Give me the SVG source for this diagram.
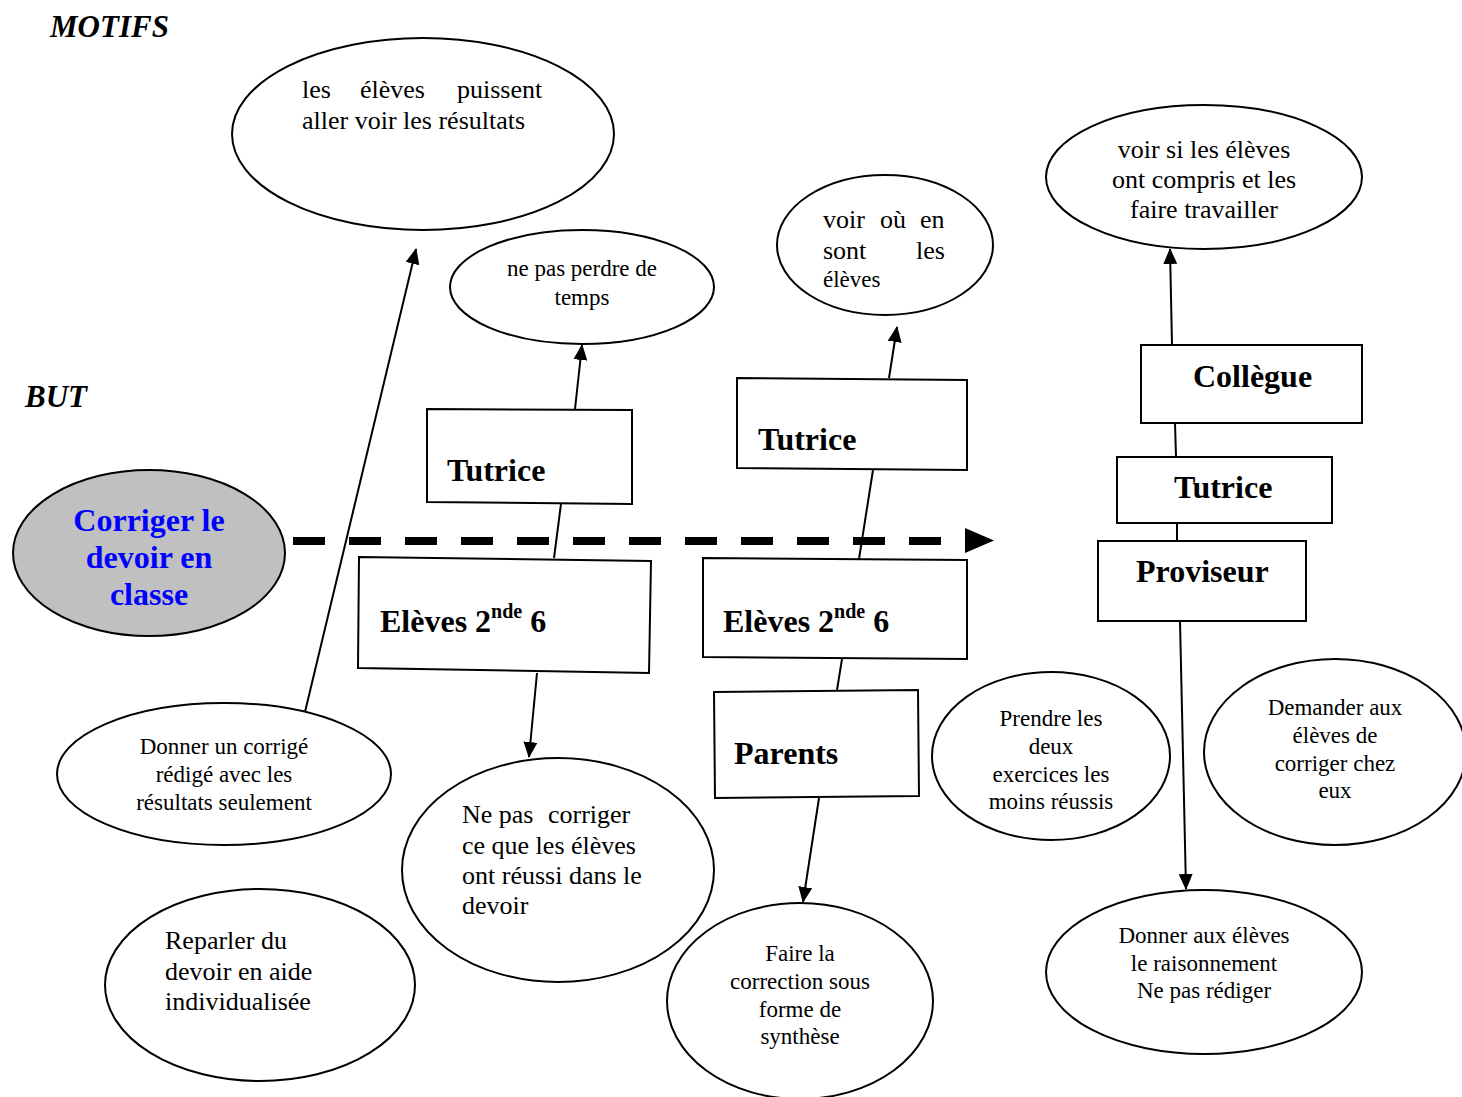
<svg xmlns="http://www.w3.org/2000/svg" width="1462" height="1097" viewBox="0 0 1462 1097">
<style>
.e{fill:#fff;stroke:#000;stroke-width:2}
.b{fill:#fff;stroke:#000;stroke-width:2}
.t{font-family:"Liberation Serif","Times New Roman",serif;fill:#000}
.s21{font-size:23px}
.s24{font-size:26px}
.bl{font-family:"Liberation Serif","Times New Roman",serif;font-weight:bold;font-size:32px;fill:#000}
.hd{font-family:"Liberation Serif","Times New Roman",serif;font-weight:bold;font-style:italic;font-size:31px;fill:#000}
.c{stroke:#000;stroke-width:2;fill:none}
.m{text-anchor:middle}
</style>
<defs>
<marker id="ah" markerUnits="userSpaceOnUse" markerWidth="16" markerHeight="14" refX="15" refY="7" orient="auto">
<path d="M0,0 L16,7 L0,14 Z" fill="#000"/>
</marker>
</defs>
<rect width="1462" height="1097" fill="#fff"/>

<text class="hd" x="50" y="37">MOTIFS</text>
<text class="hd" x="25" y="407">BUT</text>

<g id="connectors">
<line class="c" x1="305" y1="712" x2="416" y2="249" marker-end="url(#ah)"/>
<line class="c" x1="575" y1="409" x2="582" y2="345" marker-end="url(#ah)"/>
<line class="c" x1="561" y1="504" x2="554" y2="558"/>
<line class="c" x1="537" y1="673" x2="529" y2="757" marker-end="url(#ah)"/>
<line class="c" x1="889" y1="378" x2="897" y2="327" marker-end="url(#ah)"/>
<line class="c" x1="873" y1="470" x2="859" y2="559"/>
<line class="c" x1="842" y1="659" x2="837" y2="690"/>
<line class="c" x1="819" y1="798" x2="803" y2="902" marker-end="url(#ah)"/>
<line class="c" x1="1172" y1="345" x2="1170" y2="249" marker-end="url(#ah)"/>
<line class="c" x1="1175" y1="423" x2="1176" y2="457"/>
<line class="c" x1="1177" y1="523" x2="1177" y2="541"/>
<line class="c" x1="1180" y1="621" x2="1186" y2="889" marker-end="url(#ah)"/>
<line x1="293" y1="541" x2="970" y2="541" stroke="#000" stroke-width="8" stroke-dasharray="32 24"/>
<polygon points="965,528 994,540.5 965,553" fill="#000"/>
</g>

<g id="n-resultats">
<ellipse class="e" cx="423" cy="134" rx="191" ry="96"/>
<text class="t s24" y="98"><tspan x="302">les</tspan><tspan x="360">élèves</tspan><tspan x="457">puissent</tspan></text>
<text class="t s24" x="302" y="129">aller voir les résultats</text>
</g>

<g id="n-temps">
<ellipse class="e" cx="582" cy="287" rx="132" ry="57"/>
<text class="t s21 m" x="582" y="276">ne pas perdre de</text>
<text class="t s21 m" x="582" y="305">temps</text>
</g>

<g id="n-ouen">
<ellipse class="e" cx="885" cy="245" rx="108" ry="70"/>
<text class="t s24" y="228"><tspan x="823">voir</tspan><tspan x="880">où</tspan><tspan x="920">en</tspan></text>
<text class="t s24" y="259"><tspan x="823">sont</tspan><tspan x="916">les</tspan></text>
<text class="t s21" x="823" y="287">élèves</text>
</g>

<g id="n-compris">
<ellipse class="e" cx="1204" cy="177" rx="158" ry="72"/>
<text class="t s24 m" x="1204" y="158">voir si les élèves</text>
<text class="t s24 m" x="1204" y="188">ont compris et les</text>
<text class="t s24 m" x="1204" y="218">faire travailler</text>
</g>

<g id="n-but">
<ellipse cx="149" cy="553" rx="136" ry="83" fill="#c0c0c0" stroke="#000" stroke-width="2"/>
<text class="t m" x="149" y="531" style="font-weight:bold;font-size:32px;fill:#0000ff">Corriger le</text>
<text class="t m" x="149" y="568" style="font-weight:bold;font-size:32px;fill:#0000ff">devoir en</text>
<text class="t m" x="149" y="605" style="font-weight:bold;font-size:32px;fill:#0000ff">classe</text>
</g>

<g id="n-tutrice1">
<polygon class="b" points="427,409 632,410 632,504 427,502"/>
<text class="bl" x="447" y="481">Tutrice</text>
</g>

<g id="n-eleves1">
<polygon class="b" points="359,557 651,561 649,673 358,668"/>
<text class="bl" x="380" y="632">Elèves 2<tspan font-size="20" dy="-14">nde</tspan><tspan dy="14"> 6</tspan></text>
</g>

<g id="n-necorriger">
<ellipse class="e" cx="558" cy="870" rx="156" ry="112"/>
<text class="t s24" y="823"><tspan x="462">Ne pas</tspan><tspan x="548">corriger</tspan></text>
<text class="t s24" x="462" y="854">ce que les élèves</text>
<text class="t s24" x="462" y="884">ont réussi dans le</text>
<text class="t s24" x="462" y="914">devoir</text>
</g>

<g id="n-corrige">
<ellipse class="e" cx="224" cy="774" rx="167" ry="71"/>
<text class="t s21 m" x="224" y="754">Donner un corrigé</text>
<text class="t s21 m" x="224" y="782">rédigé avec les</text>
<text class="t s21 m" x="224" y="810">résultats seulement</text>
</g>

<g id="n-reparler">
<ellipse class="e" cx="260" cy="985" rx="155" ry="96"/>
<text class="t s24" x="165" y="949">Reparler du</text>
<text class="t s24" x="165" y="980">devoir en aide</text>
<text class="t s24" x="165" y="1010">individualisée</text>
</g>

<g id="n-tutrice2">
<polygon class="b" points="737,378 967,380 967,470 737,468"/>
<text class="bl" x="758" y="450">Tutrice</text>
</g>

<g id="n-eleves2">
<polygon class="b" points="703,558 967,560 967,659 703,657"/>
<text class="bl" x="723" y="632">Elèves 2<tspan font-size="20" dy="-14">nde</tspan><tspan dy="14"> 6</tspan></text>
</g>

<g id="n-parents">
<polygon class="b" points="714,692 918,690 919,796 715,798"/>
<text class="bl" x="734" y="764">Parents</text>
</g>

<g id="n-synthese">
<ellipse class="e" cx="800" cy="1001" rx="133" ry="98"/>
<text class="t s21 m" x="800" y="961">Faire la</text>
<text class="t s21 m" x="800" y="989">correction sous</text>
<text class="t s21 m" x="800" y="1017">forme de</text>
<text class="t s21 m" x="800" y="1044">synthèse</text>
</g>

<g id="n-prendre">
<ellipse class="e" cx="1051" cy="756" rx="119" ry="84"/>
<text class="t s21 m" x="1051" y="726">Prendre les</text>
<text class="t s21 m" x="1051" y="754">deux</text>
<text class="t s21 m" x="1051" y="782">exercices les</text>
<text class="t s21 m" x="1051" y="809">moins réussis</text>
</g>

<g id="n-demander">
<ellipse class="e" cx="1335" cy="752" rx="131" ry="93"/>
<text class="t s21 m" x="1335" y="715">Demander aux</text>
<text class="t s21 m" x="1335" y="743">élèves de</text>
<text class="t s21 m" x="1335" y="771">corriger chez</text>
<text class="t s21 m" x="1335" y="798">eux</text>
</g>

<g id="n-collegue">
<rect class="b" x="1141" y="345" width="221" height="78"/>
<text class="bl" x="1193" y="387">Collègue</text>
</g>

<g id="n-tutrice3">
<rect class="b" x="1117" y="457" width="215" height="66"/>
<text class="bl" x="1174" y="498">Tutrice</text>
</g>

<g id="n-proviseur">
<rect class="b" x="1098" y="541" width="208" height="80"/>
<text class="bl" x="1136" y="582">Proviseur</text>
</g>

<g id="n-raisonnement">
<ellipse class="e" cx="1204" cy="972" rx="158" ry="82"/>
<text class="t s21 m" x="1204" y="943">Donner aux élèves</text>
<text class="t s21 m" x="1204" y="971">le raisonnement</text>
<text class="t s21 m" x="1204" y="998">Ne pas rédiger</text>
</g>
</svg>
